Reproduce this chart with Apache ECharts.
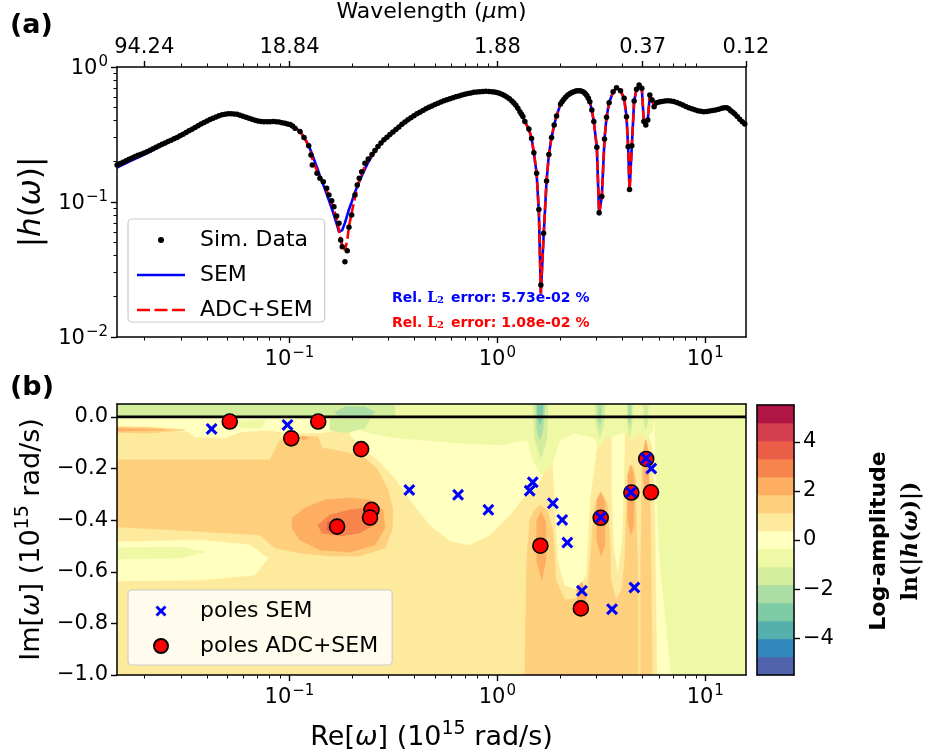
<!DOCTYPE html>
<html><head><meta charset="utf-8">
<script src="https://cdn.jsdelivr.net/npm/echarts@6/dist/echarts.min.js"></script>
<style>html,body{margin:0;padding:0;background:#fff}#c{width:930px;height:753px}</style>
</head><body><div id="c"></div>
<script>
// ---------------- data ----------------
// frequency samples (1e15 rad/s) shared by the fitted curves and the main simulated points
const simOmega = [0.01482,0.01583,0.01692,0.01808,0.01932,0.02065,0.02206,0.02358,0.02520,0.02694,
0.02878,0.03076,0.03287,0.03513,0.03754,0.04012,0.04287,0.04582,0.04897,0.05233,
0.05592,0.05976,0.06387,0.06826,0.07295,0.07795,0.08331,0.08903,0.09515,0.1006,
0.1063,0.1123,0.1174,0.1237,0.1269,0.1287,0.1356,0.1401,0.1454,0.1509,
0.1548,0.1595,0.1636,0.1686,0.1730,0.1763,0.1794,0.1848,0.1896,0.1932,
0.1991,0.2065,0.2118,0.2166,0.2224,0.2307,0.2392,0.2493,0.2664,0.2847,
0.3043,0.3251,0.3474,0.3712,0.3968,0.4241,0.4532,0.4843,0.5176,0.5532,
0.5911,0.6317,0.6750,0.7215,0.7709,0.8239,0.8803,0.9410,0.9945,1.0511,
1.1109,1.1741,1.2272,1.2829,1.3262,1.3559,1.4172,1.4603,1.4981,1.5437,
1.5831,1.6185,1.6677,1.7239,1.7685,1.8222,1.8754,1.9258,2.0129,2.0879,
2.1822,2.2815,2.3846,2.4925,2.6053,2.6935,2.7841,2.8466,2.9103,3.0087,
3.0858,3.1791,3.2758,3.3497,3.4475,3.6034,3.7421,3.9110,4.0700,4.1804,
4.2546,4.3217,4.4330,4.5475,4.6697,4.8060,4.9520,5.0627,5.1756,5.2920,
5.4104,5.5492,5.6733,5.8268,6.1788,6.6006,7.0549,7.5420,8.0590,8.6127,
9.2025,9.8355,10.510,11.232,12.003,12.688,13.26,13.87,14.65,15.49];

const simAmp = [0.188,0.197,0.207,0.217,0.226,0.236,0.248,0.261,0.274,0.287,
0.301,0.318,0.337,0.356,0.378,0.398,0.418,0.435,0.447,0.451,
0.446,0.432,0.418,0.404,0.394,0.393,0.394,0.391,0.383,0.375,
0.352,0.333,0.300,0.2614,0.2229,0.1879,0.1631,0.1497,0.1414,0.1263,
0.1127,0.1023,0.0923,0.0787,0.0695,0.0523,0.0467,0.0361,0.0436,0.0649,
0.0801,0.1127,0.1336,0.1497,0.1678,0.1933,0.2083,0.225,0.258,0.289,
0.316,0.344,0.376,0.407,0.436,0.463,0.490,0.515,0.539,0.562,
0.583,0.602,0.619,0.636,0.649,0.657,0.660,0.657,0.648,0.628,
0.600,0.560,0.520,0.467,0.430,0.394,0.347,0.296,0.232,0.163,
0.088,0.0243,0.0586,0.143,0.225,0.301,0.372,0.434,0.532,0.578,
0.620,0.648,0.664,0.667,0.650,0.615,0.553,0.480,0.394,0.254,
0.0833,0.110,0.293,0.424,0.544,0.656,0.703,0.668,0.586,0.428,
0.257,0.124,0.261,0.560,0.684,0.736,0.695,0.394,0.372,0.405,
0.620,0.570,0.508,0.544,0.556,0.563,0.556,0.535,0.510,0.490,
0.475,0.467,0.472,0.480,0.495,0.500,0.475,0.449,0.410,0.378];

// further simulated points read in the smooth stretches, where the dots merge into a thick line
const simOmega2 = [0.01532,0.01636,0.01749,0.01869,0.01997,0.02134,0.02281,0.02438,0.02605,0.02785,
0.02975,0.03180,0.03398,0.03632,0.03881,0.04147,0.04432,0.04737,0.05062,0.05410,
0.05781,0.06178,0.06603,0.07057,0.07541,0.08059,0.08612,0.09204,0.09784,0.1034,
0.2577,0.2754,0.2943,0.3145,0.3361,0.3591,0.3838,0.4102,0.4384,0.4685,
0.5007,0.5351,0.5718,0.6110,0.6530,0.6979,0.7458,0.7970,0.8516,0.9101,
0.9674,1.0224,1.0806,1.1421,1.2004,1.2548,1.3044,
2.050,2.1346,2.2314,2.3326,2.4380,2.5483,2.6490,2.7384,
6.0002,6.3862,6.8240,7.2945,7.7963,8.3313,8.9028,9.5137,10.167,10.865,
11.611,12.341,12.971,13.561,14.254,15.064];
const simAmp2 = [0.1925,0.202,0.212,0.2215,0.231,0.242,0.2545,0.2675,0.2805,0.294,
0.3095,0.3275,0.3465,0.367,0.388,0.408,0.427,0.442,0.450,0.449,
0.440,0.425,0.411,0.398,0.393,0.3935,0.393,0.387,0.379,0.365,
0.241,0.273,0.302,0.330,0.360,0.391,0.421,0.450,0.477,0.503,
0.527,0.551,0.573,0.593,0.611,0.628,0.643,0.653,0.659,0.659,
0.653,0.639,0.615,0.581,0.541,0.494,0.448,
0.556,0.600,0.635,0.657,0.667,0.660,0.634,0.586,
0.551,0.560,0.560,0.546,0.523,0.500,0.482,0.470,0.469,0.476,
0.487,0.498,0.490,0.462,0.430,0.393];

const semAmp = [0.180,0.189,0.199,0.209,0.219,0.230,0.242,0.256,0.270,0.285,
0.301,0.319,0.339,0.360,0.381,0.402,0.421,0.437,0.447,0.449,
0.443,0.432,0.419,0.407,0.398,0.394,0.392,0.389,0.383,0.374,
0.356,0.333,0.303,0.262,0.238,0.224,0.180,0.156,0.134,0.115,
0.103,0.090,0.080,0.069,0.060,0.059,0.062,0.070,0.080,0.088,
0.100,0.118,0.130,0.142,0.155,0.176,0.197,0.220,0.254,0.287,
0.316,0.344,0.376,0.407,0.436,0.463,0.490,0.515,0.539,0.562,
0.583,0.602,0.619,0.636,0.649,0.657,0.660,0.657,0.648,0.628,
0.600,0.560,0.520,0.467,0.430,0.394,0.347,0.296,0.232,0.163,
0.085,0.021,0.055,0.143,0.225,0.301,0.372,0.434,0.532,0.578,
0.620,0.648,0.664,0.667,0.650,0.615,0.553,0.480,0.394,0.254,
0.080,0.110,0.293,0.424,0.544,0.656,0.703,0.668,0.586,0.428,
0.257,0.120,0.261,0.560,0.684,0.736,0.695,0.394,0.372,0.405,
0.620,0.570,0.508,0.544,0.556,0.563,0.556,0.535,0.510,0.490,
0.475,0.467,0.472,0.480,0.495,0.500,0.475,0.449,0.410,0.378];

const adcAmp = [0.184,0.193,0.203,0.213,0.223,0.234,0.246,0.259,0.272,0.286,
0.301,0.318,0.337,0.357,0.378,0.398,0.418,0.435,0.447,0.450,
0.445,0.432,0.418,0.405,0.395,0.393,0.393,0.390,0.383,0.375,
0.354,0.333,0.301,0.260,0.232,0.210,0.170,0.152,0.138,0.122,
0.110,0.098,0.088,0.074,0.062,0.053,0.047,0.044,0.052,0.066,
0.083,0.108,0.126,0.143,0.160,0.185,0.204,0.224,0.257,0.289,
0.316,0.344,0.376,0.407,0.436,0.463,0.490,0.515,0.539,0.562,
0.583,0.602,0.619,0.636,0.649,0.657,0.660,0.657,0.648,0.628,
0.600,0.560,0.520,0.467,0.430,0.394,0.347,0.296,0.232,0.163,
0.086,0.021,0.056,0.143,0.225,0.301,0.372,0.434,0.532,0.578,
0.620,0.648,0.664,0.667,0.650,0.615,0.553,0.480,0.394,0.254,
0.0833,0.110,0.293,0.424,0.544,0.656,0.703,0.668,0.586,0.428,
0.257,0.124,0.261,0.560,0.684,0.736,0.695,0.394,0.372,0.405,
0.620,0.570,0.508,0.544,0.556,0.563,0.556,0.535,0.510,0.490,
0.475,0.467,0.472,0.480,0.495,0.500,0.475,0.449,0.410,0.378];

const semPolesRe = [0.0422,0.0978,0.377,0.647,0.905,1.43,1.48,1.85,2.05,2.17,2.55,3.14,3.56,4.39,4.56,5.2,5.5];
const semPolesIm = [-0.0465,-0.031,-0.283,-0.302,-0.360,-0.286,-0.253,-0.335,-0.399,-0.487,-0.674,-0.389,-0.745,-0.292,-0.661,-0.160,-0.200];
const adcPolesRe = [0.0516,0.102,0.1375,0.221,0.248,0.244,0.1695,1.61,2.52,3.14,4.41,5.2,5.48];
const adcPolesIm = [-0.018,-0.083,-0.018,-0.125,-0.360,-0.390,-0.425,-0.499,-0.742,-0.391,-0.293,-0.163,-0.292];

// axis ticks
const omegaMajor = [0.1, 1, 10];
const omegaMinor = [0.02,0.03,0.04,0.05,0.06,0.07,0.08,0.09,0.2,0.3,0.4,0.5,0.6,0.7,0.8,0.9,2,3,4,5,6,7,8,9];
const ampMajor = [0.01, 0.1, 1];
const ampMinor = [0.02,0.03,0.04,0.05,0.06,0.07,0.08,0.09,0.2,0.3,0.4,0.5,0.6,0.7,0.8,0.9];
const wlTickOmega = [0.02, 0.1, 1, 5, 15.7];
const wlTickLabels = ['94.24','18.84','1.88','0.37','0.12'];
const imTicks = [-1.0,-0.8,-0.6,-0.4,-0.2,0.0];
const cbTicks = [-4,-2,0,2,4];
const cbLevels = [-5.5,-4.767,-4.033,-3.3,-2.567,-1.833,-1.1,-0.367,0.367,1.1,1.833,2.567,3.3,4.033,4.767,5.5];

// contour field of ln|h(w)| in the complex plane: filled level regions (level index -7..7), painted in order
const fieldLevels = [1,-1,-2,-3,0,-1,2,3,2,3,4,5,0,-1,0,-1,-2,0,0,2,0,-1,1,2,3,3,3,3,3,-1,-2,-3,-2,-3,-2,-3,-2,-4,3];
const fieldPaths = [
 [[0.0148,0.05],[15.7,0.05],[15.7,-1],[0.0148,-1]],
 [[0.0148,0.05],[15.7,0.05],[15.7,-0.004],[0.0148,-0.004]],
 [[0.0148,0.05],[0.3215,0.05],[0.3215,-0.004],[0.0148,-0.004]],
 [[0.1655,0.0194],[0.1848,0.0388],[0.2307,0.0388],[0.2577,0.0194],[0.2438,-0.004],[0.1749,-0.004]],
 [[0.0148,-0.002],[0.2307,-0.002],[0.2232,-0.031],[0.1749,-0.0504],[0.1401,-0.062],[0.09515,-0.062],[0.0788,-0.0504],[0.05781,-0.0581],[0.04897,-0.0814],[0.03513,-0.0775],[0.03251,-0.0581],[0.02135,-0.0388],[0.0148,-0.0349]],
 [[0.05654,-0.0155],[0.07624,-0.0116],[0.07377,-0.0426],[0.05781,-0.0426]],
 [[0.0148,-0.0388],[0.02135,-0.0407],[0.03145,-0.0504],[0.02135,-0.062],[0.0148,-0.060]],
 [[0.0148,-0.045],[0.0252,-0.0504],[0.0148,-0.055]],
 [[0.0148,-0.167],[0.0806,-0.167],[0.0900,-0.089],[0.1123,-0.074],[0.1371,-0.078],[0.1433,-0.120],[0.1848,-0.136],[0.2307,-0.159],[0.2664,-0.205],[0.2976,-0.283],[0.3146,-0.3605],[0.3111,-0.438],[0.2879,-0.508],[0.2183,-0.539],[0.1565,-0.539],[0.1123,-0.527],[0.0852,-0.508],[0.0721,-0.457],[0.0148,-0.426]],
 [[0.1028,-0.3915],[0.1187,-0.3527],[0.1481,-0.3217],[0.1953,-0.314],[0.2438,-0.3217],[0.2815,-0.3605],[0.2879,-0.430],[0.2577,-0.4961],[0.1953,-0.523],[0.1401,-0.5155],[0.1123,-0.4767],[0.1028,-0.430]],
 [[0.1371,-0.4186],[0.1565,-0.3798],[0.1953,-0.3605],[0.2384,-0.3527],[0.2605,-0.3798],[0.2548,-0.4186],[0.2183,-0.4496],[0.1749,-0.4612],[0.1433,-0.4496]],
 [[0.1531,-0.407],[0.1749,-0.3992],[0.1848,-0.4302],[0.1655,-0.4496],[0.1515,-0.438]],
 [[0.0148,-0.4845],[0.03712,-0.4767],[0.06457,-0.4961],[0.0788,-0.5465],[0.06826,-0.6124],[0.03712,-0.6318],[0.0148,-0.6357]],
 [[0.0148,-0.5078],[0.02975,-0.5039],[0.03924,-0.5233],[0.02975,-0.5465],[0.0148,-0.5504]],
 [[0.2065,-0.0078],[1.692,-0.0078],[1.748,-0.0891],[1.692,-0.2054],[1.548,-0.2752],[1.326,-0.314],[1.148,-0.3798],[0.9204,-0.4574],[0.7375,-0.4961],[0.5911,-0.4806],[0.4737,-0.4186],[0.3796,-0.3217],[0.3215,-0.2364],[0.2664,-0.1667],[0.2232,-0.120],[0.1953,-0.0698]],
 [[0.1848,-0.0078],[1.433,-0.0078],[1.401,-0.0891],[1.028,-0.1085],[0.6603,-0.1008],[0.4241,-0.0891],[0.3043,-0.0775],[0.2307,-0.0581],[0.1953,-0.031]],
 [[0.1565,-0.0078],[0.2438,-0.0078],[0.2307,-0.0426],[0.1848,-0.062],[0.1565,-0.0504]],
 [[1.911,-0.0504],[2.358,-0.0078],[3.110,-0.0078],[3.0425,-0.0891],[2.910,-0.2054],[2.784,-0.3217],[2.723,-0.4767],[2.664,-0.6124],[2.438,-0.6705],[2.111,-0.6512],[1.954,-0.5543],[1.911,-0.3992],[1.869,-0.2442],[1.828,-0.1085]],
 [[3.552,-0.0504],[4.102,-0.0504],[4.057,-0.2442],[3.968,-0.4767],[3.796,-0.6008],[3.632,-0.4961],[3.552,-0.2829]],
 [[1.356,-1],[1.386,-0.5543],[1.433,-0.3992],[1.5145,-0.3605],[1.6007,-0.341],[1.7298,-0.3605],[1.849,-0.438],[1.911,-0.6318],[2.111,-0.7093],[2.4925,-0.7016],[2.723,-0.6705],[2.847,-0.4767],[2.910,-0.3605],[3.0425,-0.3101],[3.215,-0.3023],[3.398,-0.341],[3.474,-0.4767],[3.513,-0.6318],[3.712,-0.7093],[3.968,-0.6705],[4.102,-0.5543],[4.194,-0.3217],[4.335,-0.1977],[4.481,-0.186],[4.633,-0.2442],[4.685,-0.4767],[4.789,-0.7093],[4.897,-1]],
 [[5.2,-0.004],[5.719,-0.004],[5.846,-0.3217],[6.109,-0.593],[6.457,-0.7868],[6.900,-1],[5.2,-1]],
 [[5.719,-0.004],[15.7,-0.004],[15.7,-1],[6.900,-1],[6.457,-0.7868],[6.109,-0.593],[5.846,-0.3217]],
 [[4.843,-0.1279],[5.176,-0.0581],[5.532,-0.1085],[5.719,-0.3992],[5.781,-0.7093],[5.846,-1],[4.789,-1],[4.789,-0.3217]],
 [[4.952,-0.1667],[5.176,-0.0969],[5.35,-0.14],[5.45,-0.3992],[5.5,-0.7093],[5.55,-1],[4.897,-1],[4.897,-0.5543],[4.952,-0.3217]],
 [[1.548,-0.3992],[1.619,-0.3682],[1.711,-0.407],[1.711,-0.5543],[1.636,-0.6318],[1.548,-0.562]],
 [[3.0087,-0.3217],[3.145,-0.2907],[3.287,-0.3295],[3.287,-0.4961],[3.145,-0.5388],[3.0087,-0.4767]],
 [[4.241,-0.2248],[4.383,-0.186],[4.532,-0.2248],[4.532,-0.4186],[4.383,-0.4574],[4.241,-0.3992]],
 [[5.063,-0.1279],[5.176,-0.0891],[5.292,-0.1279],[5.351,-0.2829],[5.176,-0.3217],[5.063,-0.2442]],
 [[2.411,-0.6628],[2.548,-0.6395],[2.664,-0.6899],[2.605,-0.7674],[2.466,-0.7558]],
 [[1.401,-0.002],[5.719,-0.002],[5.532,-0.0581],[5.176,-0.0891],[4.843,-0.0581],[4.481,-0.0969],[4.241,-0.0581],[3.287,-0.0814],[3.110,-0.120],[2.943,-0.0814],[2.358,-0.062],[1.998,-0.0891],[1.828,-0.186],[1.619,-0.2248],[1.465,-0.1589],[1.401,-0.0891]],
 [[1.4813,0.05],[1.748,0.05],[1.7298,-0.0891],[1.619,-0.1589],[1.5145,-0.0891]],
 [[1.531,0.05],[1.692,0.05],[1.655,-0.0504],[1.6007,-0.0891],[1.548,-0.0504]],
 [[2.95,0.05],[3.3,0.05],[3.25,-0.03],[3.11,-0.08],[2.98,-0.03]],
 [[3.05,0.045],[3.18,0.045],[3.17,-0.01],[3.11,-0.035],[3.05,-0.01]],
 [[4.2,0.05],[4.47,0.05],[4.44,-0.03],[4.33,-0.075],[4.23,-0.03]],
 [[4.27,0.045],[4.40,0.045],[4.39,-0.01],[4.33,-0.03],[4.28,-0.01]],
 [[5.05,0.05],[5.32,0.05],[5.28,-0.02],[5.17,-0.05],[5.08,-0.02]],
 [[1.56,0.045],[1.66,0.045],[1.65,0.0],[1.6,-0.03],[1.56,0.0]],
 [[0.108,-0.082],[0.118,-0.076],[0.124,-0.082],[0.118,-0.088]]
];

// ---------------- style ----------------
const F = 'DejaVu Sans';
const XMIN = 0.0148, XMAX = 15.7;
const bandColors = ['#4f62ab','#3288bd','#55afad','#7dcba5','#abdda4','#d2ed9c','#eef8a5','#ffffbf','#feea9c','#fecf7d','#fdae61','#f7834d','#ea5d47','#d53e4f','#b01546'];
const xPath = 'path://M0,2L2,0L5.5,3.5L9,0L11,2L7.5,5.5L11,9L9,11L5.5,7.5L2,11L0,9L3.5,5.5Z';
const TS = 21; // tick label font size
const LS = 27; // axis title font size
const minus = v => (v < -1e-9 ? '\u2212' : '');
const powRich = {
  b: {fontSize: TS, fontFamily: F, color: '#000', verticalAlign: 'bottom'},
  s: {fontSize: 15, fontFamily: F, color: '#000', verticalAlign: 'bottom', padding: [0, 0, 9, 1]}
};
const powFmt = v => { const e = Math.round(Math.log10(v)); return '{b|10}{s|' + (e < 0 ? '\u2212' + (-e) : e) + '}'; };
const labRich = {
  n: {fontSize: LS, fontFamily: F, color: '#000', verticalAlign: 'bottom'},
  i: {fontSize: LS, fontFamily: F, fontStyle: 'italic', color: '#000', verticalAlign: 'bottom'},
  s: {fontSize: 19, fontFamily: F, color: '#000', verticalAlign: 'bottom', padding: [0, 0, 12, 0]}
};

function axis(o) {
  const base = {
    splitLine: {show: false},
    axisLine: {show: false, onZero: false, lineStyle: {color: '#000', width: 1.5}},
    axisTick: {show: false},
    axisLabel: {show: false},
    z: 5
  };
  const r = Object.assign({}, base, o);
  r.axisLine = Object.assign({}, base.axisLine, o.axisLine || {});
  return r;
}
const majTick = vals => ({show: true, customValues: vals, length: 6, lineStyle: {color: '#000', width: 1.4}});
const minTick = vals => ({show: true, customValues: vals, length: 3.5, lineStyle: {color: '#000', width: 1}});

const logX = (grid, pos, extra) => axis(Object.assign({type: 'log', logBase: 10, min: XMIN, max: XMAX, gridIndex: grid, position: pos}, extra));

const xAxes = [
  // grid 0 (panel a)
  logX(0, 'bottom', {axisLine: {show: true}, axisTick: majTick(omegaMajor),
     axisLabel: {show: true, customValues: omegaMajor, formatter: powFmt, rich: powRich, margin: 9}}),
  logX(0, 'bottom', {axisTick: minTick(omegaMinor)}),
  logX(0, 'top', {axisLine: {show: true}, axisTick: majTick(wlTickOmega),
     axisLabel: {show: true, customValues: wlTickOmega, margin: 9, fontSize: TS, fontFamily: F, color: '#000',
       formatter: v => { let best = 0; wlTickOmega.forEach((w, i) => { if (Math.abs(Math.log(w / v)) < Math.abs(Math.log(wlTickOmega[best] / v))) best = i; }); return wlTickLabels[best]; }},
     name: '{n|Wavelength (}{i|\u03bc}{n|m)}', nameLocation: 'middle', nameGap: 44,
     nameTextStyle: {rich: {n: {fontSize: 22, fontFamily: F, color: '#000'}, i: {fontSize: 22, fontFamily: F, fontStyle: 'italic', color: '#000'}}}}),
  logX(0, 'top', {axisTick: minTick(omegaMinor)}),
  // grid 1 (panel b)
  logX(1, 'bottom', {axisLine: {show: true}, axisTick: majTick(omegaMajor),
     axisLabel: {show: true, customValues: omegaMajor, formatter: powFmt, rich: powRich, margin: 9},
     name: '{n|Re[}{i|\u03c9}{n|] (10}{s|15}{n| rad/s)}', nameLocation: 'middle', nameGap: 45,
     nameTextStyle: {rich: labRich}}),
  logX(1, 'bottom', {axisTick: minTick(omegaMinor)}),
  logX(1, 'top', {axisLine: {show: true}}),
  // grid 2 (colorbar)
  axis({type: 'value', min: 0, max: 1, gridIndex: 2, position: 'bottom', axisLine: {show: true}}),
  axis({type: 'value', min: 0, max: 1, gridIndex: 2, position: 'top', axisLine: {show: true}})
];

const yAxes = [
  axis({type: 'log', logBase: 10, min: 0.01, max: 1, gridIndex: 0, position: 'left', axisLine: {show: true},
    axisTick: majTick(ampMajor), axisLabel: {show: true, customValues: ampMajor, formatter: powFmt, rich: powRich, margin: 9},
    name: '{n||}{i|h}{n|(}{i|\u03c9}{n|)|}', nameLocation: 'middle', nameGap: 56, nameRotate: 90,
    nameTextStyle: {rich: {n: {fontSize: 31, fontFamily: F, color: '#000'}, i: {fontSize: 31, fontFamily: F, fontStyle: 'italic', color: '#000'}}}}),
  axis({type: 'log', logBase: 10, min: 0.01, max: 1, gridIndex: 0, position: 'left', axisTick: minTick(ampMinor)}),
  axis({type: 'log', logBase: 10, min: 0.01, max: 1, gridIndex: 0, position: 'right', axisLine: {show: true}}),
  axis({type: 'value', min: -1, max: 0.05, gridIndex: 1, position: 'left', axisLine: {show: true},
    axisTick: majTick(imTicks), axisLabel: {show: true, customValues: imTicks, margin: 9, fontSize: TS, fontFamily: F, color: '#000',
      formatter: v => minus(v) + Math.abs(v).toFixed(1)},
    name: '{n|Im[}{i|\u03c9}{n|] (10}{s|15}{n| rad/s)}', nameLocation: 'middle', nameGap: 72, nameRotate: 90,
    nameTextStyle: {rich: labRich}}),
  axis({type: 'value', min: -1, max: 0.05, gridIndex: 1, position: 'right', axisLine: {show: true}}),
  axis({type: 'value', min: -5.5, max: 5.5, gridIndex: 2, position: 'right', axisLine: {show: true},
    axisTick: majTick(cbTicks), axisLabel: {show: true, customValues: cbTicks, margin: 9, fontSize: TS, fontFamily: F, color: '#000',
      formatter: v => minus(v) + Math.abs(v)}}),
  axis({type: 'value', min: -5.5, max: 5.5, gridIndex: 2, position: 'left', axisLine: {show: true}})
];

const legendBox = {orient: 'vertical', itemWidth: 48, itemHeight: 14, itemGap: 13,
  backgroundColor: 'rgba(255,255,255,0.85)', borderColor: '#cccccc', borderWidth: 1.2, borderRadius: 4,
  textStyle: {fontSize: 22, fontFamily: F, color: '#000', padding: [0, 0, 0, 10]}};

const option = {
  animation: false,
  backgroundColor: '#fff',
  grid: [
    {left: 117, top: 67, width: 629, height: 270, containLabel: false, outerBoundsMode: 'none'},
    {left: 117, top: 404, width: 629, height: 271, containLabel: false, outerBoundsMode: 'none'},
    {left: 757, top: 405, width: 37, height: 270, containLabel: false, outerBoundsMode: 'none'}
  ],
  xAxis: xAxes,
  yAxis: yAxes,
  legend: [
    Object.assign({}, legendBox, {
      data: [{name: 'Sim. Data', icon: 'path://M0,0M48,14M21,7A3,3 0 1 0 27,7A3,3 0 1 0 21,7Z'},
             {name: 'SEM', icon: 'path://M0,0M48,14M0,5.7L48,5.7L48,8.3L0,8.3Z'},
             {name: 'ADC+SEM', icon: 'path://M0,0M48,14M0,5.7h13v2.6h-13zM17.5,5.7h13v2.6h-13zM35,5.7h13v2.6h-13z'}],
      left: 128, top: 219, padding: [10, 12, 1, 9]}),
    Object.assign({}, legendBox, {
      data: [{name: 'poles SEM', icon: 'path://M0,0M48,14M18.5,3.5L20.5,1.5L24,5L27.5,1.5L29.5,3.5L26,7L29.5,10.5L27.5,12.5L24,9L20.5,12.5L18.5,10.5L22,7Z'}, 'poles ADC+SEM'],
      left: 128, top: 590, padding: [10, 14, 8, 9], backgroundColor: 'rgba(255,255,255,0.82)'})
  ],
  graphic: [
    {type: 'text', left: 10, top: 12, style: {text: '(a)', font: 'bold 27px "DejaVu Sans"', fill: '#000'}},
    {type: 'text', left: 10, top: 374, style: {text: '(b)', font: 'bold 27px "DejaVu Sans"', fill: '#000'}},
    {type: 'text', x: 392, y: 298, style: {
      text: '{b|Rel. }{m|L}{sub|2}{b| error: 5.73e-02 %}', verticalAlign: 'middle', fill: '#0000ff',
      rich: {b: {font: 'bold 14px "DejaVu Sans"', fill: '#0000ff', verticalAlign: 'bottom'}, m: {font: 'bold 14px "DejaVu Serif"', fill: '#0000ff', verticalAlign: 'bottom'}, sub: {font: 'bold 10px "DejaVu Serif"', fill: '#0000ff', verticalAlign: 'bottom', padding: [0, 2, 0, 0]}}}},
    {type: 'text', x: 392, y: 323, style: {
      text: '{b|Rel. }{m|L}{sub|2}{b| error: 1.08e-02 %}', verticalAlign: 'middle', fill: '#ff0000',
      rich: {b: {font: 'bold 14px "DejaVu Sans"', fill: '#ff0000', verticalAlign: 'bottom'}, m: {font: 'bold 14px "DejaVu Serif"', fill: '#ff0000', verticalAlign: 'bottom'}, sub: {font: 'bold 10px "DejaVu Serif"', fill: '#ff0000', verticalAlign: 'bottom', padding: [0, 2, 0, 0]}}}},
    {type: 'text', x: 879, y: 541, rotation: Math.PI / 2, style: {text: 'Log-amplitude', font: 'bold 22px "DejaVu Sans"', fill: '#000', align: 'center', verticalAlign: 'middle'}},
    {type: 'text', x: 911, y: 541, rotation: Math.PI / 2, style: {
      text: '{n|ln(|}{i|h}{n|(}{i|\u03c9}{n|)|)}', align: 'center', verticalAlign: 'middle',
      rich: {n: {font: 'bold 22px "DejaVu Serif"', fill: '#000'}, i: {font: 'italic bold 22px "DejaVu Serif"', fill: '#000'}}}}
  ],
  series: [
    {type: 'line', name: 'SEM', xAxisIndex: 0, yAxisIndex: 0, showSymbol: false, symbol: 'none',
     data: simOmega.map((w, i) => [w, semAmp[i]]), lineStyle: {color: '#0000ff', width: 2.6}, itemStyle: {color: '#0000ff'}, z: 3},
    {type: 'line', name: 'ADC+SEM', xAxisIndex: 0, yAxisIndex: 0, showSymbol: false, symbol: 'none',
     data: simOmega.map((w, i) => [w, adcAmp[i]]), lineStyle: {color: '#ff0000', width: 2.6, type: [9, 4]}, itemStyle: {color: '#ff0000'}, z: 4},
    {type: 'scatter', name: 'Sim. Data', xAxisIndex: 0, yAxisIndex: 0, symbol: 'circle', symbolSize: 5.5,
     data: simOmega.map((w, i) => [w, simAmp[i]]).concat(simOmega2.map((w, i) => [w, simAmp2[i]])),
     itemStyle: {color: '#000', opacity: 1}, z: 5},
    {type: 'custom', xAxisIndex: 4, yAxisIndex: 3, clip: true, silent: true, z: 1,
     data: fieldPaths.map((p, i) => [p[0][0], p[0][1], i]), encode: {x: 0, y: 1},
     renderItem: (params, api) => {
       const i = api.value(2);
       const c = bandColors[fieldLevels[i] + 7];
       return {type: 'polygon', shape: {points: fieldPaths[i].map(p => api.coord(p))}, style: {fill: c, stroke: c, lineWidth: 0.6}};
     }},
    {type: 'line', xAxisIndex: 4, yAxisIndex: 3, symbol: 'none', data: [[XMIN, 0], [XMAX, 0]],
     lineStyle: {color: '#000', width: 2.6}, z: 3, silent: true},
    {type: 'scatter', name: 'poles ADC+SEM', xAxisIndex: 4, yAxisIndex: 3, symbol: 'circle', symbolSize: 15,
     data: adcPolesRe.map((r, i) => [r, adcPolesIm[i]]), itemStyle: {color: '#ff0000', borderColor: '#000', borderWidth: 1.6, opacity: 1}, z: 6},
    {type: 'scatter', name: 'poles SEM', xAxisIndex: 4, yAxisIndex: 3, symbol: xPath, symbolSize: 12,
     data: semPolesRe.map((r, i) => [r, semPolesIm[i]]), itemStyle: {color: '#0000ff', opacity: 1}, z: 7},
    {type: 'custom', xAxisIndex: 7, yAxisIndex: 5, silent: true, z: 1,
     data: cbLevels.slice(0, -1).map((lo, i) => [0.5, lo, cbLevels[i + 1], i]), encode: {x: 0, y: [1, 2]},
     renderItem: (params, api) => {
       const a = api.coord([0, api.value(2)]);
       const b = api.coord([1, api.value(1)]);
       const c = bandColors[api.value(3)];
       return {type: 'rect', shape: {x: a[0], y: a[1], width: b[0] - a[0], height: b[1] - a[1]}, style: {fill: c, stroke: c, lineWidth: 0.5}};
     }}
  ]
};

const chart = echarts.init(document.getElementById('c'), null, {renderer: 'canvas'});
chart.setOption(option);
</script></body></html>
